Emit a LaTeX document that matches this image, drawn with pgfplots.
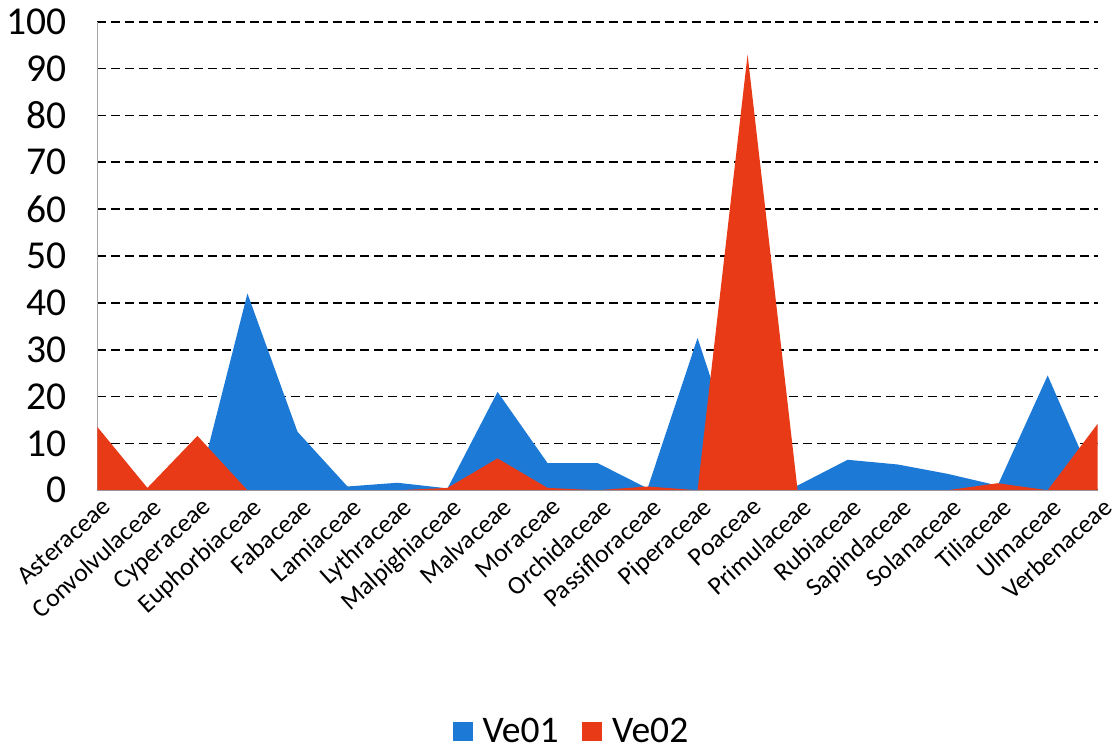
\documentclass[border=0pt]{standalone}
\usepackage{fontspec}
\setmainfont{Carlito}
\usepackage{pgfplots}
\pgfplotsset{compat=1.18}
\definecolor{veblue}{RGB}{28,122,214}
\definecolor{vered}{RGB}{232,58,22}
\begin{document}
\begin{tikzpicture}
\begin{axis}[
  scale only axis,
  width=506pt, height=237pt,
  xmin=0, xmax=20, ymin=0, ymax=100,
  ytick distance=10,
  xtick={0,...,20},
  xticklabels={Asteraceae,Convolvulaceae,Cyperaceae,Euphorbiaceae,Fabaceae,Lamiaceae,Lythraceae,Malpighiaceae,Malvaceae,Moraceae,Orchidaceae,Passifloraceae,Piperaceae,Poaceae,Primulaceae,Rubiaceae,Sapindaceae,Solanaceae,Tiliaceae,Ulmaceae,Verbenaceae},
  x tick label style={rotate=42, anchor=north east, font=\fontsize{13}{14}\selectfont, inner sep=0.5pt, yshift=-3pt},
  y tick label style={font=\fontsize{20}{22}\selectfont, xshift=-12pt},
  /pgf/number format/assume math mode=true,
  major tick length=0pt,
  axis x line*=bottom, axis y line*=left,
  axis line style={gray!70, line width=0.6pt},
  ymajorgrids,
  major grid style={black, line width=0.9pt, dash pattern=on 4.5pt off 2.5pt},
  legend style={at={(0.475,-0.515)}, anchor=center, draw=none, fill=none,
    font=\fontsize{19}{21}\selectfont, legend columns=2,
    /tikz/every even column/.append style={column sep=10pt},
    /tikz/every odd column/.append style={column sep=3pt}},
  legend image code/.code={\fill[#1] (0pt,-5pt) rectangle (10pt,5pt);},
  clip=false,
]
% Ve01
\addplot[fill=veblue, draw=none] coordinates {
 (0,0) (1,0) (2,0) (3,42) (4,12.5) (5,0.8) (6,1.6) (7,0.4) (8,21) (9,5.8)
 (10,5.8) (11,0.4) (12,32.5) (13,0) (14,1) (15,6.5) (16,5.5) (17,3.5)
 (18,1) (19,24.5) (20,0)
} \closedcycle;
\addlegendentry{Ve01}
% Ve02
\addplot[fill=vered, draw=none] coordinates {
 (0,13.5) (1,0.5) (2,11.6) (3,0) (4,0) (5,0) (6,0) (7,0.5) (8,6.8) (9,0.5)
 (10,0) (11,0.8) (12,0) (13,93) (14,0) (15,0) (16,0) (17,0) (18,1.5)
 (19,0) (20,14.2)
} \closedcycle;
\addlegendentry{Ve02}
\path (axis description cs:-0.09486,1.0464) (axis description cs:1.0069,-0.5485);
\end{axis}
\useasboundingbox (current axis.south west) rectangle (current axis.north east);
\end{tikzpicture}
\end{document}
